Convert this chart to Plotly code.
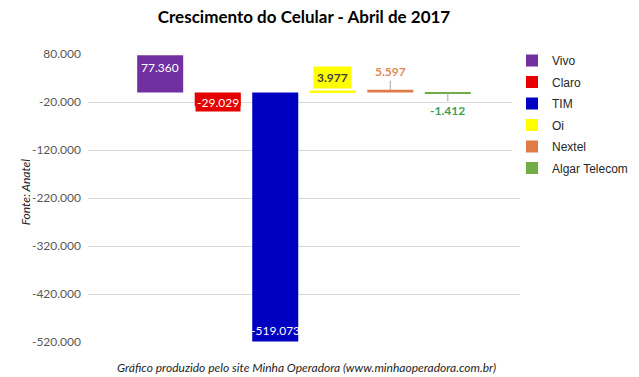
import plotly.graph_objects as go

operators = ["Vivo", "Claro", "TIM", "Oi", "Nextel", "Algar Telecom"]
growth = [77360, -29029, -519073, 3977, 5597, -1412]
colors = ["#7030A0", "#E60000", "#0000C0", "#FFFF00", "#E07B45", "#70AD47"]
tick_vals = [80000, -20000, -120000, -220000, -320000, -420000, -520000]


def fmt(v):
    return f"{v:,}".replace(",", ".")


tick_text = [fmt(v) for v in tick_vals]

FONT = "Lato, 'Open Sans', sans-serif"

fig = go.Figure()
for name, val, col in zip(operators, growth, colors):
    fig.add_trace(go.Bar(x=[name], y=[val], name=name, marker=dict(color=col, line=dict(width=0)),
                         legendgroup=name))

ann = []
ann.append(dict(x=operators[0], y=growth[0], text=fmt(growth[0]), showarrow=False, yanchor="top", yshift=-3,
                font=dict(family=FONT, size=12, color="white")))
ann.append(dict(x=operators[1], y=growth[1], text=fmt(growth[1]), showarrow=False, yanchor="middle", yshift=4,
                bgcolor="#E60000", borderpad=1, font=dict(family=FONT, size=12, color="white")))
ann.append(dict(x=operators[2], y=growth[2], text=fmt(growth[2]), showarrow=False, yanchor="bottom", yshift=2,
                font=dict(family=FONT, size=12, color="white")))
ann.append(dict(x=operators[3], y=growth[3], text="<b>" + fmt(growth[3]) + "</b>", showarrow=False,
                yanchor="middle", yshift=13, bgcolor="#FFFF00", borderpad=3,
                font=dict(family=FONT, size=12, color="#404040")))
ann.append(dict(x=operators[4], y=growth[4], text="<b>" + fmt(growth[4]) + "</b>", showarrow=True, arrowhead=0,
                arrowwidth=1, arrowcolor="#A6A6A6", ax=0, ay=-18, standoff=0,
                font=dict(family=FONT, size=12, color="#E08A5A")))
ann.append(dict(x=operators[5], y=growth[5], text="<b>" + fmt(growth[5]) + "</b>", showarrow=True, arrowhead=0,
                arrowwidth=1, arrowcolor="#A6A6A6", ax=0, ay=17, standoff=0,
                font=dict(family=FONT, size=12, color="#3AA060")))
ann.append(dict(xref="paper", yref="paper", x=0, y=0.52, xshift=-63, xanchor="center", yanchor="middle",
                text="<i>Fonte: Anatel</i>", textangle=-90,
                showarrow=False, font=dict(family=FONT, size=12, color="#262626")))
ann.append(dict(xref="paper", yref="paper", x=0.505, y=-0.087,
                text="<i>Gráfico produzido pelo site Minha Operadora (www.minhaoperadora.com.br)</i>",
                showarrow=False, yanchor="middle", font=dict(family=FONT, size=12, color="#262626")))

fig.update_layout(
    width=639, height=377,
    margin=dict(l=88, r=119, t=54, b=35, autoexpand=False),
    paper_bgcolor="white", plot_bgcolor="white",
    title=dict(text="<b>Crescimento do Celular - Abril de 2017</b>", x=0.5, xref="paper", xanchor="center",
               y=1 - 17 / 377, yanchor="middle", font=dict(family=FONT, size=17, color="black")),
    barmode="overlay", bargap=0.2,
    xaxis=dict(type="category", range=[-1.255, 6.255], showticklabels=False, showgrid=False,
               showline=False, zeroline=False, ticks=""),
    yaxis=dict(range=[-520000, 80000], tickvals=tick_vals, ticktext=tick_text, showgrid=True,
               gridcolor="#D9D9D9", gridwidth=1, zeroline=False, showline=False, ticks="",
               ticklabelstandoff=6, automargin=False,
               tickfont=dict(family=FONT, size=12, color="#595959")),
    legend=dict(x=512 / 639, xref="container", xanchor="left", y=1 - 46 / 377, yref="container", yanchor="top",
                traceorder="grouped",
                font=dict(family="Liberation Sans, Arial", size=12, color="#262626"),
                tracegroupgap=2.5, itemwidth=30),
    annotations=ann,
    showlegend=True,
)

fig.write_html("out.html", config={"displayModeBar": False},
               post_script="document.body.style.margin='0';document.body.style.overflow='hidden';")
